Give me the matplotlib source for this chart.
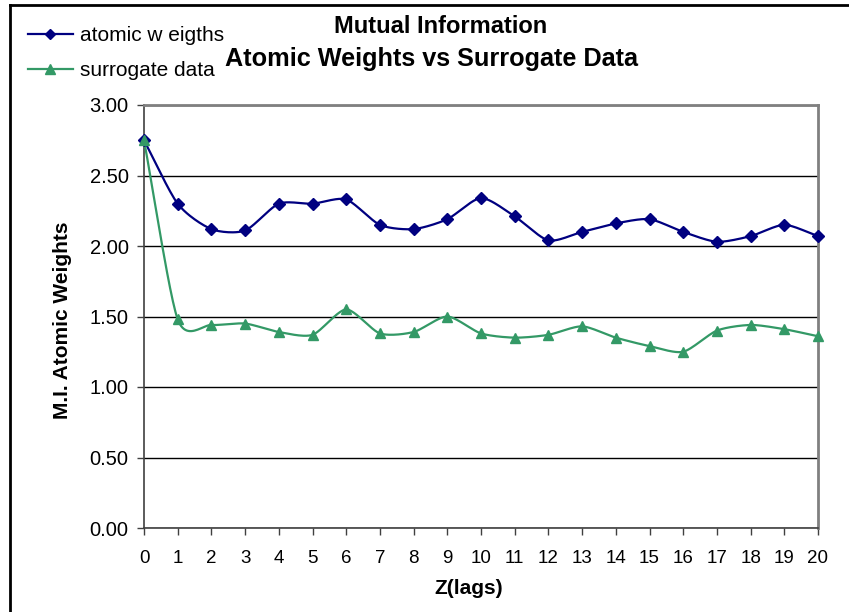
import numpy as np
import matplotlib.pyplot as plt
from matplotlib.lines import Line2D

# data
lags = list(range(21))
atomic = [2.75, 2.30, 2.12, 2.11, 2.30, 2.30, 2.33, 2.15, 2.12, 2.19, 2.34,
          2.21, 2.04, 2.10, 2.16, 2.19, 2.10, 2.03, 2.07, 2.15, 2.07]
surrogate = [2.75, 1.48, 1.44, 1.45, 1.39, 1.37, 1.55, 1.38, 1.39, 1.50, 1.38,
             1.35, 1.37, 1.43, 1.35, 1.29, 1.25, 1.40, 1.44, 1.41, 1.36]
yticks = [0.0, 0.5, 1.0, 1.5, 2.0, 2.5, 3.0]

plt.rcParams['font.family'] = ['Liberation Sans', 'DejaVu Sans']


def smooth(x, y, n=24, k=0.75):
    # catmull-rom style curve through the points (excel "smoothed line")
    x = np.asarray(x, float)
    y = np.asarray(y, float)
    px = np.concatenate([[2 * x[0] - x[1]], x, [2 * x[-1] - x[-2]]])
    py = np.concatenate([[2 * y[0] - y[1]], y, [2 * y[-1] - y[-2]]])
    t = np.linspace(0, 1, n, endpoint=False)
    h00 = 2 * t ** 3 - 3 * t ** 2 + 1
    h10 = t ** 3 - 2 * t ** 2 + t
    h01 = -2 * t ** 3 + 3 * t ** 2
    h11 = t ** 3 - t ** 2
    xs, ys = [], []
    for i in range(1, len(px) - 2):
        for p, out in ((px, xs), (py, ys)):
            m1 = k * (p[i + 1] - p[i - 1]) / 2
            m2 = k * (p[i + 2] - p[i]) / 2
            out.extend(h00 * p[i] + h10 * m1 + h01 * p[i + 1] + h11 * m2)
    xs.append(x[-1])
    ys.append(y[-1])
    return np.array(xs), np.array(ys)


blue = '#000080'
green = '#339966'

fig = plt.figure(figsize=(8.49, 6.12), dpi=100)
ax = fig.add_axes([144 / 849, 1 - 528 / 612, (818 - 144) / 849, (528 - 105) / 612])

sx, sy = smooth(lags, atomic)
ax.plot(sx, sy, color=blue, lw=1.6, zorder=3, clip_on=False)
ax.plot(lags, atomic, ls='none', marker='D', ms=6.5, color=blue, zorder=4, clip_on=False)
sx, sy = smooth(lags, surrogate)
ax.plot(sx, sy, color=green, lw=1.6, zorder=3, clip_on=False)
ax.plot(lags, surrogate, ls='none', marker='^', ms=7.5, color=green, zorder=4, clip_on=False)

ax.set_xlim(0, 20)
ax.set_ylim(0, 3)
ax.set_xticks(lags)
ax.set_yticks(yticks)
ax.set_yticklabels([f'{v:.2f}' for v in yticks])
ax.yaxis.grid(True, color='black', lw=1)
ax.set_axisbelow(True)
ax.tick_params(axis='both', direction='out', length=5, width=1, color='#404040')
ax.tick_params(axis='x', labelsize=13.5, pad=11)
ax.tick_params(axis='y', labelsize=14.5, pad=6)
for s in ('left', 'bottom'):
    ax.spines[s].set_color('#404040')
    ax.spines[s].set_linewidth(1.2)
for s in ('top', 'right'):
    ax.spines[s].set_color('#808080')
    ax.spines[s].set_linewidth(2)

ax.set_xlabel('Z(lags)', fontsize=15, fontweight='bold', va='top')
ax.xaxis.set_label_coords((469 - 144) / 674, -(579 - 528) / 423)
ax.set_ylabel('M.I. Atomic Weights', fontsize=15, fontweight='bold', va='center')
ax.yaxis.set_label_coords(-(144 - 62) / 674, 0.49)

fig.text(441 / 849, 1 - 33 / 612, 'Mutual Information', ha='center', va='baseline',
         fontsize=17, fontweight='bold')
fig.text(431 / 849, 1 - 66 / 612, 'Atomic Weights vs Surrogate Data', ha='center',
         va='baseline', fontsize=18.2, fontweight='bold')

handles = [Line2D([], [], color=blue, lw=1.6, marker='D', ms=5),
           Line2D([], [], color=green, lw=1.6, marker='^', ms=6.5)]
fig.legend(handles, ['atomic w eigths', 'surrogate data'], loc='upper left',
           bbox_to_anchor=(28 / 849, 1 - 26 / 612), frameon=False, fontsize=15,
           handlelength=2.15, handletextpad=0.35, labelspacing=0.76,
           borderpad=0, borderaxespad=0)

# outer chart frame (cut off at right and bottom)
fig.add_artist(Line2D([9.5 / 849, 9.5 / 849], [0, 1 - 5 / 612], color='black', lw=2,
                      transform=fig.transFigure))
fig.add_artist(Line2D([9.5 / 849, 1], [1 - 5 / 612, 1 - 5 / 612], color='black', lw=2,
                      transform=fig.transFigure))

fig.savefig('out.png', dpi=100)
